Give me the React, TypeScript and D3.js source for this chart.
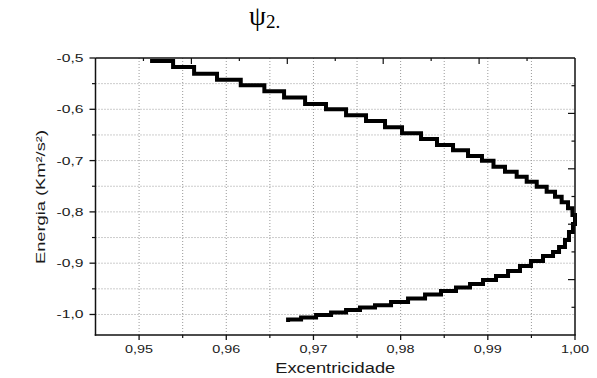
import React from 'react';
import * as d3 from 'd3';

// Upper branch (plateau starts)
const eccUpper = [0.95126, 0.9539, 0.95631, 0.95894, 0.96166, 0.96437, 0.96663, 0.96904, 0.97144, 0.97374, 0.97603, 0.97821, 0.98016, 0.98234, 0.98417, 0.98601, 0.98773, 0.98933, 0.99065, 0.99197, 0.99331, 0.99446, 0.99561, 0.99675, 0.99771, 0.99847, 0.9992, 0.99971, 1.0];
const energyUpper = [-0.5058, -0.5175, -0.5306, -0.5423, -0.5532, -0.5649, -0.577, -0.5897, -0.6, -0.6117, -0.6228, -0.6351, -0.6468, -0.6579, -0.6696, -0.6799, -0.691, -0.7002, -0.7119, -0.7216, -0.7314, -0.7411, -0.7509, -0.7606, -0.7704, -0.7813, -0.793, -0.806, -0.8197];
// Lower branch (from the vertex back to the left)
const eccLower = [1.0, 0.99977, 0.99931, 0.99885, 0.99817, 0.99748, 0.99633, 0.99495, 0.99369, 0.99232, 0.99094, 0.98945, 0.98796, 0.98635, 0.98463, 0.9828, 0.98085, 0.9789, 0.97706, 0.97534, 0.97374, 0.97202, 0.9703, 0.96858, 0.96709];
const energyLower = [-0.8236, -0.8392, -0.8548, -0.8684, -0.8782, -0.886, -0.8957, -0.9055, -0.9152, -0.925, -0.9327, -0.9405, -0.9474, -0.9542, -0.961, -0.9688, -0.9756, -0.9821, -0.9864, -0.9912, -0.9961, -1.001, -1.0058, -1.0097, -1.0146];

const xTicks = [0.95, 0.96, 0.97, 0.98, 0.99, 1.0];
const xTickLabels = ['0,95', '0,96', '0,97', '0,98', '0,99', '1,00'];
const yTicks = [-0.5, -0.6, -0.7, -0.8, -0.9, -1.0];
const yTickLabels = ['-0,5', '-0,6', '-0,7', '-0,8', '-0,9', '-1,0'];

const xLabel = 'Excentricidade';
const yLabel = 'Energia (Km²/s²)';

export default function App() {
  const W = 597, H = 378;
  const left = 95.5, right = 575, top = 58, bottom = 335;
  const x = d3.scaleLinear().domain([0.945, 1.0]).range([left, right]);
  const y = d3.scaleLinear().domain([-1.04, -0.5]).range([bottom, top]);
  const fx = d3.scaleLinear().domain([0, 1]).range([left, right]);
  const fy = d3.scaleLinear().domain([0, 1]).range([top, bottom]);

  const pts: [number, number][] = [
    ...eccUpper.map((e, i) => [e, energyUpper[i]] as [number, number]),
    ...eccLower.map((e, i) => [e, energyLower[i]] as [number, number]),
  ];
  const line = d3.line<[number, number]>()
    .x(d => x(d[0]))
    .y(d => y(d[1]))
    .curve(d3.curveStepAfter);

  const gridX = d3.range(0, 10).map(i => 0.95 + i * 0.005);
  const gridY = d3.range(1, 11).map(i => -0.5 - i * 0.05);
  const minorX = d3.range(0, 10).map(i => 0.955 + i * 0.01).filter(v => v < 1);
  const minorY = d3.range(0, 5).map(i => -0.55 - i * 0.1);
  const frameTicks = d3.range(1, 10).map(i => i / 10);

  const sans = 'Liberation Sans, Arial, sans-serif';

  return (
    <svg width={W} height={H} style={{ position: 'absolute', left: 0, top: 0, background: '#fff' }}>
      <rect x={0} y={0} width={W} height={H} fill="#fff" />
      <text x={249} y={25} fontFamily="Liberation Serif, Times New Roman, serif" fontSize={27} fill="#000">
        ψ<tspan fontSize={19} dy={3}>2.</tspan>
      </text>

      {/* grid */}
      {gridX.map((v, i) => (
        <line key={'gx' + i} x1={x(v)} x2={x(v)} y1={top} y2={bottom} stroke="#999" strokeWidth={1} strokeDasharray="1,2" />
      ))}
      {gridY.map((v, i) => (
        <line key={'gy' + i} x1={left} x2={right} y1={y(v)} y2={y(v)} stroke="#999" strokeWidth={1} strokeDasharray="1,2" />
      ))}

      {/* curve */}
      <path d={line(pts) || ''} fill="none" stroke="#000" strokeWidth={4} strokeLinejoin="miter" />

      {/* frame */}
      <line x1={left} x2={right} y1={top} y2={top} stroke="#111" strokeWidth={1.5} />
      <line x1={right} x2={right} y1={top} y2={bottom} stroke="#111" strokeWidth={1.5} />
      <line x1={left} x2={left} y1={top} y2={bottom + 0.75} stroke="#111" strokeWidth={1.5} />
      <line x1={left - 0.75} x2={right + 0.75} y1={bottom} y2={bottom} stroke="#111" strokeWidth={1.5} />

      {/* top / right inner ticks */}
      {frameTicks.map((v, i) => (
        <line key={'tt' + i} x1={fx(v)} x2={fx(v)} y1={top} y2={top + (i % 2 === 1 ? 6 : 3)} stroke="#111" strokeWidth={1.2} />
      ))}
      {frameTicks.map((v, i) => (
        <line key={'rt' + i} x1={right} x2={right - (i % 2 === 1 ? 7 : 3.5)} y1={fy(v)} y2={fy(v)} stroke="#111" strokeWidth={1.2} />
      ))}

      {/* bottom axis */}
      {xTicks.map((v, i) => (
        <g key={'xt' + i}>
          <line x1={x(v)} x2={x(v)} y1={bottom} y2={bottom + 5} stroke="#111" strokeWidth={1.3} />
          <text x={x(v)} y={352.5} textAnchor="middle" fontFamily={sans} fontSize={11.5} fill="#1a1a1a"
            textLength={28} lengthAdjust="spacingAndGlyphs">{xTickLabels[i]}</text>
        </g>
      ))}
      {minorX.map((v, i) => (
        <line key={'mx' + i} x1={x(v)} x2={x(v)} y1={bottom} y2={bottom + 3} stroke="#111" strokeWidth={1.2} />
      ))}

      {/* left axis */}
      {yTicks.map((v, i) => (
        <g key={'yt' + i}>
          <line x1={left} x2={left - 6} y1={y(v)} y2={y(v)} stroke="#111" strokeWidth={1.3} />
          <text x={83.5} y={y(v) + 4} textAnchor="end" fontFamily={sans} fontSize={11.5} fill="#1a1a1a"
            textLength={27} lengthAdjust="spacingAndGlyphs">{yTickLabels[i]}</text>
        </g>
      ))}
      {minorY.map((v, i) => (
        <line key={'my' + i} x1={left} x2={left - 3.5} y1={y(v)} y2={y(v)} stroke="#111" strokeWidth={1.2} />
      ))}

      {/* axis labels */}
      <text x={(left + right) / 2} y={373} textAnchor="middle" fontFamily={sans} fontSize={14} fill="#1a1a1a"
        textLength={120} lengthAdjust="spacingAndGlyphs">{xLabel}</text>
      <text transform={`translate(45, 197) rotate(-90)`} textAnchor="middle" fontFamily={sans}
        fontSize={13} fill="#1a1a1a" textLength={134} lengthAdjust="spacingAndGlyphs">{yLabel}</text>
    </svg>
  );
}
